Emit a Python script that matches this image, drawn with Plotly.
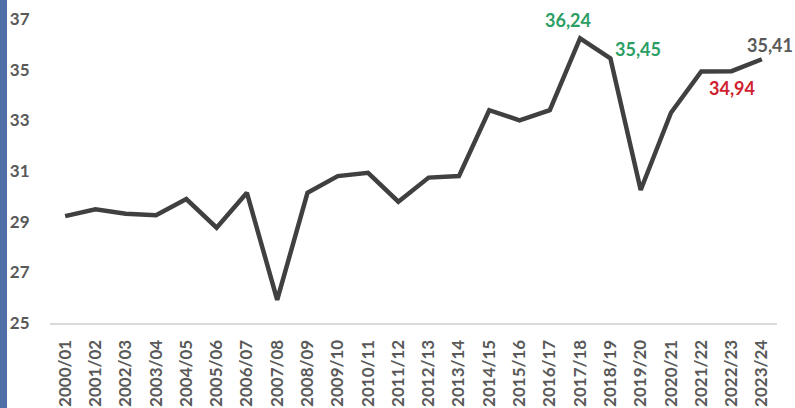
import plotly.graph_objects as go

years = ["2000/01", "2001/02", "2002/03", "2003/04", "2004/05", "2005/06", "2006/07",
         "2007/08", "2008/09", "2009/10", "2010/11", "2011/12", "2012/13", "2013/14",
         "2014/15", "2015/16", "2016/17", "2017/18", "2018/19", "2019/20", "2020/21",
         "2021/22", "2022/23", "2023/24"]
values = [29.22, 29.49, 29.31, 29.25, 29.89, 28.76, 30.14, 25.91, 30.14, 30.80, 30.93,
          29.79, 30.74, 30.80, 33.40, 33.00, 33.40, 36.24, 35.45, 30.25, 33.30, 34.93,
          34.94, 35.41]
y_ticks = [25, 27, 29, 31, 33, 35, 37]

# highlighted labels: (index, text, colour, xshift, yshift)
label_idx = [17, 18, 22, 23]
label_txt = ["36,24", "35,45", "34,94", "35,41"]
label_col = ["#2a9e63", "#2a9e63", "#d01f2e", "#595959"]
label_dx = [-12, 28, 0, 8]
label_dy = [18, 9, -17, 14]

fig = go.Figure()
fig.add_trace(go.Scatter(
    x=years, y=values, mode="lines",
    line=dict(color="#404040", width=4.5),
    hoverinfo="skip", showlegend=False,
))

for i, t, c, dx, dy in zip(label_idx, label_txt, label_col, label_dx, label_dy):
    fig.add_annotation(
        x=years[i], y=values[i], text=f"<b>{t}</b>", showarrow=False,
        xshift=dx, yshift=dy,
        font=dict(family="Lato", size=18, color=c),
    )

L, R, T, B = 50, 18, 19, 85
W, H = 795, 408
pw, ph = W - L - R, H - T - B
fig.add_shape(type="rect", xref="paper", yref="paper",
              x0=-L / pw, x1=(-L + 7) / pw, y0=-B / ph, y1=1 + T / ph,
              fillcolor="#4f6fa8", line=dict(width=0), layer="above")

fig.update_layout(
    width=W, height=H,
    margin=dict(l=L, r=R, t=T, b=B),
    paper_bgcolor="white", plot_bgcolor="white",
    font=dict(family="Lato", color="#595959"),
    xaxis=dict(
        type="category", range=[-0.5, len(years) - 0.5], automargin=False,
        showgrid=False, zeroline=False,
        showline=True, linecolor="#d9d9d9", linewidth=2,
        tickangle=-90, ticks="outside", ticklen=8, tickcolor="rgba(0,0,0,0)",
        tickfont=dict(family="Lato", size=17, color="#595959", weight="bold"),
    ),
    yaxis=dict(
        range=[25, 37], tickvals=y_ticks, ticktext=[str(v) for v in y_ticks],
        automargin=False,
        showgrid=False, zeroline=False, showline=False,
        ticks="outside", ticklen=16, tickcolor="rgba(0,0,0,0)",
        tickfont=dict(family="Lato", size=17, color="#595959", weight="bold"),
    ),
)

fig.write_html("out.html", config={"displayModeBar": False},
               post_script="document.body.style.margin='0';")
